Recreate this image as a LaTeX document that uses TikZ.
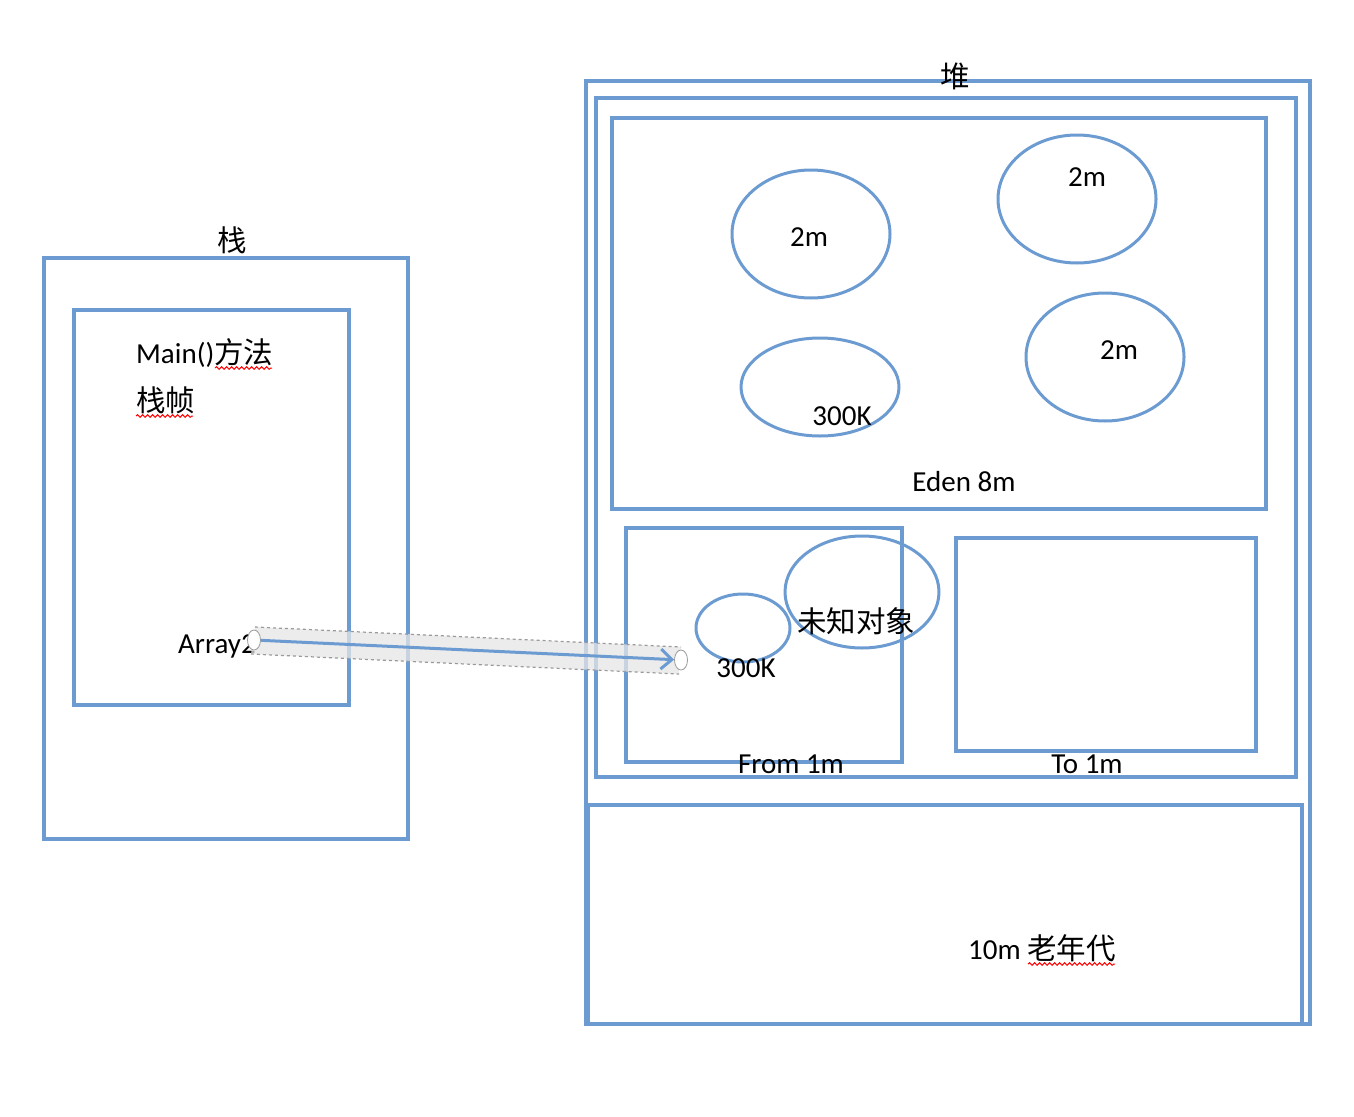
\documentclass[tikz,border=0pt]{standalone}
\usepackage{fontspec}
\setmainfont{Carlito}
\newfontfamily\cjk{Noto Sans CJK SC}
\usetikzlibrary{shapes.geometric,arrows.meta,decorations.pathmorphing}
\definecolor{boxblue}{HTML}{6C9BD2}
\definecolor{tubegray}{HTML}{E6E6E6}
\definecolor{dashgray}{HTML}{9A9A9A}
\begin{document}
\begin{tikzpicture}[x=1pt,y=-1pt,
  box/.style={draw=boxblue,line width=3.3pt},
  blob/.style={draw=boxblue,line width=3pt,ellipse,inner sep=0pt},
  lbl/.style={inner sep=0pt,font=\fontsize{29}{34}\selectfont},
  cjklbl/.style={inner sep=0pt,font=\fontsize{29.5}{34}\selectfont\cjk},
  wavy/.style={draw=red,line width=1pt,decorate,decoration={snake,amplitude=1.3pt,segment length=5pt}},
  endcap/.style={draw=dashgray,line width=0.8pt,fill=white,ellipse,inner sep=0pt,minimum width=13pt,minimum height=20pt}]
\useasboundingbox (0,0) rectangle (1354,1116);
% stack
\draw[box] (44,258) rectangle (408,839);
\draw[box] (74,310) rectangle (349,705);
\node[cjklbl] (stacklbl) at (232,240) {栈};
\node[lbl,anchor=base west] (mainlbl) at (136,363) {Main(){\cjk\fontsize{29.5}{34}\selectfont 方法}};
\node[lbl,anchor=base west] (framelbl) at (136,411) {{\cjk\fontsize{29.5}{34}\selectfont 栈帧}};
\draw[wavy] (215,368) -- (272,368);
\draw[wavy] (136,416) -- (193,416);
\node[lbl,anchor=base west] (arraylbl) at (178,653) {Array2};
% heap
\draw[box] (586,81) rectangle (1310,1024);
\draw[box] (596,98) rectangle (1296,777);
\draw[box] (612,118) rectangle (1266,509);
\node[cjklbl] (heaplbl) at (955,76) {堆};
\node[blob,minimum width=158pt,minimum height=128pt] (e1) at (811,234) {};
\node[lbl] at (809,237) {2m};
\node[blob,minimum width=158pt,minimum height=128pt] (e2) at (1077,199) {};
\node[lbl] at (1087,177) {2m};
\node[blob,minimum width=158pt,minimum height=98pt] (e3) at (820,387) {};
\node[lbl] at (842,416) {300K};
\node[blob,minimum width=158pt,minimum height=128pt] (e4) at (1105,357) {};
\node[lbl] at (1119,350) {2m};
\node[lbl] (edenlbl) at (964,482) {Eden 8m};
% survivor
\draw[box] (626,528) rectangle (902,762);
\draw[box] (956,538) rectangle (1256,751);
\node[blob,minimum width=94pt,minimum height=68pt] (e5) at (743,628) {};
\node[lbl] at (746,668) {300K};
\node[blob,minimum width=154pt,minimum height=112pt] (e6) at (862,592) {};
\node[cjklbl] at (856,621) {未知对象};
\node[lbl] (fromlbl) at (791,764) {From 1m};
\node[lbl] (tolbl) at (1087,764) {To 1m};
% old
\draw[box] (588,805) rectangle (1302,1024);
\node[lbl,anchor=base] (oldlbl) at (1042,959) {10m {\cjk\fontsize{29.5}{34}\selectfont 老年代}};
\draw[wavy] (1028,964) -- (1115,964);
% reference tube
\fill[tubegray,fill opacity=0.75] (255,627) -- (681,647) -- (679,674) -- (251,654) -- cycle;
\draw[dashgray,line width=1.2pt,dashed] (255,627) -- (681,647);
\draw[dashgray,line width=1.2pt,dashed] (251,654) -- (679,674);
\node[endcap] (aL) at (254,640) {};
\node[endcap] (aR) at (681,660) {};
\draw[boxblue,line width=3pt,-{Straight Barb[length=11pt,width=20pt]}] (aL) -- (aR);
\end{tikzpicture}
\end{document}
